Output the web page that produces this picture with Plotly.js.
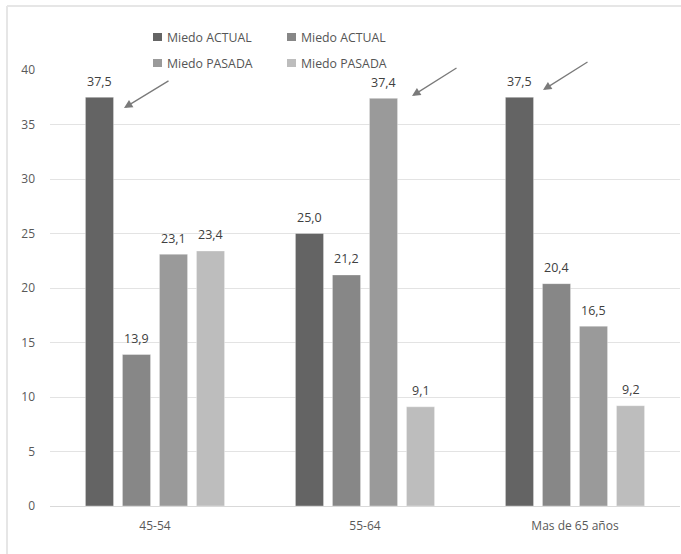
<!DOCTYPE html>
<html>
<head>
<meta charset="utf-8">
<script src="https://cdn.plot.ly/plotly-3.0.1.min.js"></script>
<style>html,body{margin:0;padding:0;background:#fff;}#chart{width:681px;height:554px;}</style>
</head>
<body>
<div id="chart"></div>
<script>
const categories = ["45-54", "55-64", "Mas de 65 años"];
const seriesNames = ["Miedo ACTUAL", "Miedo ACTUAL", "Miedo PASADA", "Miedo PASADA"];
const series1 = [37.5, 25.0, 37.5];
const series2 = [13.9, 21.2, 20.4];
const series3 = [23.1, 37.4, 16.5];
const series4 = [23.4, 9.1, 9.2];
const seriesColors = ["#646464", "#878787", "#9a9a9a", "#bdbdbd"];
const yTicks = [0, 5, 10, 15, 20, 25, 30, 35, 40];

const allSeries = [series1, series2, series3, series4];
const fmt = v => v.toFixed(1).replace('.', ',');

const traces = allSeries.map((vals, i) => ({
  type: 'bar',
  name: seriesNames[i],
  x: categories,
  y: vals,
  marker: {color: seriesColors[i], line: {color: 'rgba(255,255,255,0.35)', width: 1}},
  showlegend: false,
  hoverinfo: 'skip'
}));

// plot area geometry in px (for paper conversions of decorations)
const L = 50, R = 680, T = 70, B = 506;
const W = R - L, H = B - T;
const px = x => (x - L) / W;
const py = y => (B - y) / H;
const bargap = 0.295;
const slot = (W / categories.length) * (1 - bargap) / allSeries.length;

const shapes = [];
const annotations = [];

// data labels above bars
allSeries.forEach((vals, i) => {
  vals.forEach((v, j) => {
    annotations.push({xref: 'x', yref: 'y', x: categories[j], y: v,
      xshift: (i - (allSeries.length - 1) / 2) * slot, yshift: 16,
      xanchor: 'center', yanchor: 'middle', showarrow: false, text: fmt(v),
      font: {family: 'Open Sans, sans-serif', size: 12.5, color: '#404040'}});
  });
});

// legend (custom, 2x2)
const legendPos = [[153, 37], [287, 37], [153, 63], [287, 63]];
seriesNames.forEach((n, i) => {
  const [lx, ly] = legendPos[i];
  shapes.push({type: 'rect', xref: 'paper', yref: 'paper',
    x0: px(lx), x1: px(lx + 9), y0: py(ly + 4), y1: py(ly - 4),
    fillcolor: seriesColors[i], line: {width: 0}});
  annotations.push({xref: 'paper', yref: 'paper', x: px(lx + 12), y: py(ly),
    xanchor: 'left', yanchor: 'middle', showarrow: false, text: n,
    font: {family: 'Open Sans, sans-serif', size: 12.3, color: '#555555'}});
});

// arrows
const arrows = [[124, 108, 170, 80], [412, 96, 458, 67], [543, 90, 589, 61]];
arrows.forEach(([hx, hy, tx, ty]) => {
  annotations.push({xref: 'paper', yref: 'paper', x: px(hx), y: py(hy),
    ax: tx - hx, ay: ty - hy, showarrow: true, arrowhead: 2, arrowsize: 1.3,
    arrowwidth: 1.3, arrowcolor: '#7a7a7a', text: ''});
});

// outer frame (top and left)
shapes.push({type: 'line', xref: 'paper', yref: 'paper', x0: px(7), x1: px(690), y0: py(6), y1: py(6),
  line: {color: '#e6e6e6', width: 2}});
shapes.push({type: 'line', xref: 'paper', yref: 'paper', x0: px(7), x1: px(7), y0: py(6), y1: py(560),
  line: {color: '#e6e6e6', width: 2}});

const layout = {
  width: 681, height: 554,
  margin: {l: L, r: 681 - R, t: T, b: 554 - B},
  paper_bgcolor: '#ffffff', plot_bgcolor: '#ffffff',
  barmode: 'group', bargap: bargap, bargroupgap: 0.24,
  font: {family: 'Open Sans, sans-serif', size: 12, color: '#595959'},
  xaxis: {type: 'category', showgrid: false, showline: false, zeroline: false,
    ticks: '', tickfont: {size: 12, color: '#595959'}, ticklabelstandoff: 11},
  yaxis: {range: [0, 40], tickvals: yTicks, ticktext: yTicks.map(String),
    showgrid: true, gridcolor: '#e3e3e3', gridwidth: 1, zeroline: true, zerolinecolor: '#d9d9d9',
    showline: false, ticks: '', tickfont: {size: 12, color: '#595959'}, ticklabelstandoff: 14},
  shapes: shapes,
  annotations: annotations,
  showlegend: false
};

Plotly.newPlot('chart', traces, layout, {displayModeBar: false, staticPlot: true});
</script>
</body>
</html>
